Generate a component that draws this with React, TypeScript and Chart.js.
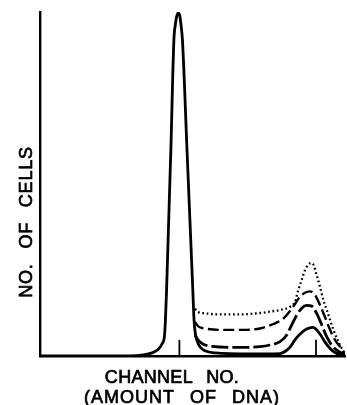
import React, { useEffect, useRef } from "react";
import { Chart, registerables } from "chart.js";

Chart.register(...registerables);

// Channel number (0-100 across the axis) and number of cells (0-100 of full height)
const solidX = [0, 29.5, 33.8, 36.7, 38.7, 40.0, 40.8, 41.1, 41.5, 42.9, 43.9, 44.4, 44.9, 45.3, 45.8, 46.2, 46.7, 48.2, 50.1, 50.5, 50.9, 51.5, 52.5, 54.1, 57.4, 68.9, 78.7, 80.3, 82.0, 83.6, 85.2, 86.9, 88.5, 89.3, 90.2, 91.8, 93.4, 95.1, 96.7, 98.4, 100];
const solidY = [0, 0, 0.3, 0.9, 1.9, 3.5, 5.8, 9.9, 19.2, 59.9, 91.9, 96.5, 99.0, 99.7, 99.0, 96.5, 91.9, 59.9, 19.2, 10.5, 6.7, 4.4, 2.6, 1.5, 0.9, 0.6, 0.7, 1.3, 2.6, 4.7, 6.3, 7.6, 8.2, 8.3, 8.0, 6.4, 4.1, 2.2, 1.0, 0.4, 0];

const dottedX = [50.8, 51.8, 54.1, 59.0, 65.6, 72.1, 75.4, 78.7, 82.0, 83.6, 84.7, 85.8, 86.9, 87.9, 88.8, 89.6, 90.7, 91.8, 92.9, 94.0, 95.1, 96.2, 97.8, 98.9, 100];
const dottedY = [13.7, 12.8, 12.4, 12.1, 12.1, 12.5, 12.9, 13.4, 14.3, 15.8, 19.2, 22.1, 25.0, 26.5, 27.0, 26.6, 23.5, 20.1, 16.3, 13.4, 10.5, 7.6, 4.2, 2.3, 0.3];

const dashedX = [50.8, 51.8, 54.1, 59.0, 65.6, 72.1, 76.5, 79.8, 83.0, 85.2, 86.9, 88.5, 90.2, 91.8, 93.4, 95.1, 96.7, 98.4, 100];
const dashedY = [9.9, 8.7, 8.0, 7.6, 7.6, 8.0, 9.3, 10.9, 14.3, 17.2, 18.4, 18.8, 17.7, 14.8, 11.4, 7.6, 4.7, 2.7, 0.6];

const longDashX = [50.8, 51.8, 53.4, 56.4, 65.6, 72.1, 75.4, 78.7, 80.9, 82.5, 84.2, 85.8, 87.4, 89.1, 90.7, 92.4, 94.0, 95.6, 97.3, 100];
const longDashY = [6.1, 4.7, 3.5, 2.8, 2.5, 2.7, 3.2, 4.2, 6.1, 9.0, 11.9, 13.9, 14.7, 14.5, 12.4, 9.0, 5.6, 3.2, 1.7, 0.3];

const tickMarksX = [45.7, 90.5];
const tickMarkHeight = 4.7;

const xTitleLines = ["CHANNEL NO.", "(AMOUNT OF DNA)"];
const yTitle = "NO. OF CELLS";

const pts = (xs: number[], ys: number[]) => xs.map((x, i) => ({ x, y: ys[i] }));

const titlesPlugin = {
  id: "titles",
  afterDraw(chart: any) {
    const ctx = chart.ctx as CanvasRenderingContext2D;
    const draw = (t: string, x: number, y: number) => {
      ctx.fillText(t, x, y);
      ctx.strokeText(t, x, y);
    };
    ctx.save();
    ctx.fillStyle = "#000";
    ctx.strokeStyle = "#000";
    ctx.lineWidth = 0.7;
    ctx.font = "18px 'Liberation Sans', Arial, sans-serif";
    ctx.textAlign = "center";
    ctx.textBaseline = "alphabetic";
    (ctx as any).letterSpacing = "0.3px";
    (ctx as any).wordSpacing = "8px";
    draw(xTitleLines[0], 172, 383);
    (ctx as any).letterSpacing = "1px";
    (ctx as any).wordSpacing = "9px";
    draw(xTitleLines[1], 182, 403);
    ctx.translate(32, 222);
    ctx.rotate(-Math.PI / 2);
    (ctx as any).letterSpacing = "0.8px";
    (ctx as any).wordSpacing = "9px";
    draw(yTitle, 0, 0);
    ctx.restore();
  },
};

export default function App() {
  const ref = useRef<HTMLCanvasElement>(null);
  useEffect(() => {
    if (!ref.current) return;
    const common = { pointRadius: 0, fill: false, cubicInterpolationMode: "monotone" as const, borderColor: "#000" };
    const chart = new Chart(ref.current, {
      type: "line",
      data: {
        datasets: [
          { ...common, data: pts(solidX, solidY), borderWidth: 2.8 },
          { ...common, data: pts(dottedX, dottedY), borderWidth: 2.3, borderDash: [1.7, 2.7] },
          { ...common, data: pts(dashedX, dashedY), borderWidth: 2.4, borderDash: [11, 4.5] },
          { ...common, data: pts(longDashX, longDashY), borderWidth: 2.8, borderDash: [17, 4] },
          ...tickMarksX.map((t) => ({ ...common, data: [{ x: t, y: 0 }, { x: t, y: tickMarkHeight }], borderWidth: 1.8 })),
        ],
      },
      options: {
        animation: false,
        responsive: false,
        maintainAspectRatio: false,
        layout: { padding: { left: 40, top: 12, right: 2, bottom: 49 } },
        plugins: { legend: { display: false }, tooltip: { enabled: false } },
        scales: {
          x: {
            type: "linear",
            min: 0,
            max: 100,
            grid: { display: false },
            ticks: { display: false },
            border: { display: true, color: "#000", width: 2.4 },
            afterFit: (s: any) => { s.height = 0; },
          },
          y: {
            type: "linear",
            min: 0,
            max: 100,
            grid: { display: false },
            ticks: { display: false },
            border: { display: true, color: "#000", width: 2.4 },
            afterFit: (s: any) => { s.width = 0; },
          },
        },
      },
      plugins: [titlesPlugin],
    });
    return () => chart.destroy();
  }, []);
  return (
    <div style={{ position: "fixed", left: 0, top: 0, width: 347, height: 405, background: "#fff" }}>
      <canvas ref={ref} width={347} height={405} style={{ width: 347, height: 405, display: "block" }} />
    </div>
  );
}
